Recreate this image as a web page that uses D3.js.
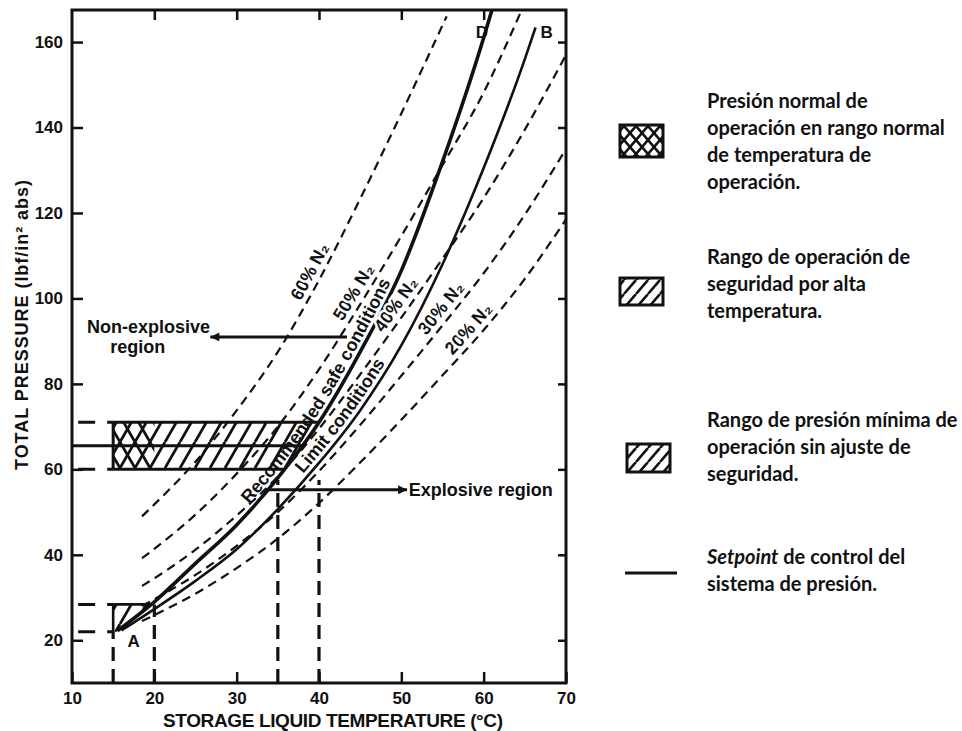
<!DOCTYPE html>
<html>
<head>
<meta charset="utf-8">
<script src="https://cdn.jsdelivr.net/npm/d3@7"></script>
<style>
  body { margin: 0; background: #fff; }
  svg { display: block; }
  .tick text { font-family: "Liberation Sans", Arial, sans-serif; font-weight: bold; font-size: 17px; fill: #111; }
  .lbl { font-family: "Liberation Sans", Arial, sans-serif; font-weight: bold; font-size: 18px; fill: #111; }
  .leg { font-family: Lato, "Open Sans", sans-serif; font-weight: bold; font-size: 20px; fill: #111; }
</style>
</head>
<body>
<svg id="chart" width="962" height="731"></svg>
<script>
// [temperature °C, total pressure lbf/in² abs]
var n2_60 = [[18.5,49],[20,51.8],[25,61.8],[30,73.8],[35,87.5],[40,104.3],[45,123.3],[50,143.3],[55.5,166]]
var n2_50 = [[18.5,39.2],[20,41.4],[25,49.4],[30,59],[35,70],[40,83.4],[45,98.6],[50,114.6],[55,131.2],[60,148.2],[64.5,167]]
var n2_40 = [[18.5,32.7],[20,34.5],[25,41.2],[30,49.2],[35,58.3],[40,69.5],[45,82.2],[50,95.5],[55,109.3],[60,123.5],[65,139.5],[70,157]]
var n2_30 = [[18.5,28],[20,29.6],[25,35.3],[30,42.1],[35,50],[40,59.6],[45,70.4],[50,81.9],[55,93.7],[60,105.9],[65,119.6],[70,135]]
var n2_20 = [[18.5,24.5],[20,25.9],[25,30.9],[30,36.9],[35,43.8],[40,52.1],[45,61.6],[50,71.6],[55,82],[60,92.6],[65,104.6],[70,118.5]]
var safeD = [[15.5,22.2],[20,29],[25,38],[30,47],[35,58],[40,71],[45,87.5],[50,106.5],[55,132],[60,161],[61,167.5]]
var limitB = [[16,22.3],[20,27.3],[25,33.9],[30,41.3],[35,50.7],[40,61.5],[45,73.8],[50,89],[55,108],[60,130.5],[65,156],[66.3,163.4]]

var xTicks = [10, 20, 30, 40, 50, 60, 70]
var yTicks = [20, 40, 60, 80, 100, 120, 140, 160]

var opBand = [60, 71]        // normal operating pressure
var setpoint = 65.5
var normTemp = [15, 20]      // normal operating temperature
var minBand = [22, 28.4]     // minimum pressure range
var highTemp = [35, 40]      // high temperature marks

var legendItems = [
  ['Presión normal de', 'operación en rango normal', 'de temperatura de', 'operación.'],
  ['Rango de operación de', 'seguridad por alta', 'temperatura.'],
  ['Rango de presión mínima de', 'operación sin ajuste de', 'seguridad.'],
  ['Setpoint| de control del', 'sistema de presión.']
]

var plotLeft = 72, plotRight = 566, plotTop = 10, plotBottom = 683

var svg = d3.select('#chart')
var x = d3.scaleLinear().domain([10, 70]).range([plotLeft, plotRight])
var y = d3.scaleLinear().domain([10, 167.5]).range([plotBottom, plotTop])

var line = d3.line()
  .x(function(d) { return x(d[0]) })
  .y(function(d) { return y(d[1]) })
  .curve(d3.curveMonotoneX)

var defs = svg.append('defs')
defs.append('clipPath').attr('id', 'plot')
  .append('rect').attr('x', plotLeft).attr('y', plotTop)
  .attr('width', plotRight - plotLeft).attr('height', plotBottom - plotTop)

// everything left of the recommended curve D
var dEnd = safeD[safeD.length - 1]
defs.append('clipPath').attr('id', 'leftOfD')
  .append('path')
  .attr('d', line(safeD) + 'L' + x(dEnd[0]) + ',' + plotTop + 'L' + plotLeft + ',' + plotTop +
    'L' + plotLeft + ',' + plotBottom + 'L' + x(safeD[0][0]) + ',' + plotBottom + 'Z')

// w x h tile, rising ("/") or falling ("\") lines
function hatch(id, w, h, rising, sw) {
  var d = rising
    ? 'M' + (-w) + ',' + h + 'L0,0M0,' + h + 'L' + w + ',0M' + w + ',' + h + 'L' + (2 * w) + ',0'
    : 'M' + (-w) + ',0L0,' + h + 'M0,0L' + w + ',' + h + 'M' + w + ',0L' + (2 * w) + ',' + h
  defs.append('pattern').attr('id', id)
    .attr('patternUnits', 'userSpaceOnUse')
    .attr('width', w).attr('height', h)
    .append('path').attr('d', d).attr('stroke', '#111').attr('stroke-width', sw)
}
hatch('hatchR', 15, 26, true, 2.8)
hatch('hatchL', 15, 26, false, 2.8)
hatch('hatchRs', 12, 14, true, 2.6)
hatch('hatchLs', 12, 14, false, 2.6)

var marker = defs.append('marker').attr('id', 'arrow')
  .attr('viewBox', '0 0 10 10').attr('refX', 10).attr('refY', 5)
  .attr('markerUnits', 'userSpaceOnUse')
  .attr('markerWidth', 17).attr('markerHeight', 9)
  .attr('orient', 'auto')
marker.append('path').attr('d', 'M0,0L10,5L0,10Z').attr('fill', '#111')

// hatched regions
var regions = svg.append('g').attr('clip-path', 'url(#leftOfD)')
regions.append('rect')
  .attr('x', x(normTemp[0])).attr('y', y(opBand[1]))
  .attr('width', x(45) - x(normTemp[0])).attr('height', y(opBand[0]) - y(opBand[1]))
  .attr('fill', 'url(#hatchR)')
regions.append('rect')
  .attr('x', x(normTemp[0])).attr('y', y(opBand[1]))
  .attr('width', x(normTemp[1]) - x(normTemp[0])).attr('height', y(opBand[0]) - y(opBand[1]))
  .attr('fill', 'url(#hatchL)')
regions.append('rect')
  .attr('x', x(normTemp[0])).attr('y', y(minBand[1]))
  .attr('width', x(normTemp[1]) - x(normTemp[0])).attr('height', y(minBand[0]) - y(minBand[1]))
  .attr('fill', 'url(#hatchR)')

// box edges and setpoint, cut at curve D
var edges = [
  [[normTemp[0], opBand[1]], [45, opBand[1]], 3],
  [[normTemp[0], opBand[0]], [45, opBand[0]], 3],
  [[normTemp[0], opBand[0]], [normTemp[0], opBand[1]], 3],
  [[10, setpoint], [45, setpoint], 3],
  [[normTemp[0], minBand[1]], [normTemp[1], minBand[1]], 2.6],
  [[normTemp[0], minBand[0]], [normTemp[0], minBand[1]], 2.6]
]
regions.selectAll('.edge').data(edges).enter().append('line')
  .attr('class', 'edge')
  .attr('x1', function(d) { return x(d[0][0]) }).attr('y1', function(d) { return y(d[0][1]) })
  .attr('x2', function(d) { return x(d[1][0]) }).attr('y2', function(d) { return y(d[1][1]) })
  .attr('stroke', '#111').attr('stroke-width', function(d) { return d[2] })

// dashed leaders
var guides = svg.append('g').attr('stroke', '#111').attr('fill', 'none')
;[opBand[0], opBand[1], minBand[0], minBand[1]].forEach(function(p) {
  guides.append('line')
    .attr('x1', x(normTemp[0])).attr('x2', x(10)).attr('y1', y(p)).attr('y2', y(p))
    .attr('stroke-width', 3).attr('stroke-dasharray', '6 12 17 100')
})
var verticals = [[normTemp[0], minBand[0]], [normTemp[1], minBand[1]], [highTemp[0], 57.5], [highTemp[1], 57.5]]
verticals.forEach(function(v) {
  guides.append('line')
    .attr('x1', x(v[0])).attr('x2', x(v[0])).attr('y1', y(10)).attr('y2', y(v[1]))
    .attr('stroke-width', 3.2).attr('stroke-dasharray', '14 8')
})

// curves
var curves = svg.append('g').attr('clip-path', 'url(#plot)').attr('fill', 'none').attr('stroke', '#111')
var series = [
  {id: 'c60', data: n2_60, w: 2.2, dash: '9 6'},
  {id: 'c50', data: n2_50, w: 2.2, dash: '9 6'},
  {id: 'c40', data: n2_40, w: 2.2, dash: '9 6'},
  {id: 'c30', data: n2_30, w: 2.2, dash: '9 6'},
  {id: 'c20', data: n2_20, w: 2.2, dash: '9 6'},
  {id: 'cD', data: safeD, w: 3.6, dash: null},
  {id: 'cB', data: limitB, w: 2.6, dash: null}
]
series.forEach(function(s) {
  curves.append('path').attr('id', s.id).attr('d', line(s.data))
    .attr('stroke-width', s.w).attr('stroke-dasharray', s.dash)
})

// frame and ticks
svg.append('rect').attr('x', plotLeft).attr('y', plotTop)
  .attr('width', plotRight - plotLeft).attr('height', plotBottom - plotTop)
  .attr('fill', 'none').attr('stroke', '#111').attr('stroke-width', 3)

function styleAxis(g) {
  g.select('.domain').remove()
  g.selectAll('.tick line').attr('stroke', '#111').attr('stroke-width', 2.5)
}
svg.append('g').attr('transform', 'translate(0,' + plotBottom + ')')
  .call(d3.axisBottom(x).tickValues(xTicks).tickSize(-11).tickSizeOuter(0).tickPadding(9)).call(styleAxis)
svg.append('g').attr('transform', 'translate(' + plotLeft + ',0)')
  .call(d3.axisLeft(y).tickValues(yTicks).tickSize(-11).tickSizeOuter(0).tickPadding(9)).call(styleAxis)
svg.append('g').attr('transform', 'translate(0,' + plotTop + ')')
  .call(d3.axisTop(x).tickValues([20, 30, 40, 50, 60]).tickSize(-10).tickSizeOuter(0).tickFormat('')).call(styleAxis)
svg.append('g').attr('transform', 'translate(' + plotRight + ',0)')
  .call(d3.axisRight(y).tickValues(yTicks).tickSize(-8).tickSizeOuter(0).tickFormat('')).call(styleAxis)

svg.append('text').attr('class', 'lbl')
  .attr('transform', 'translate(28,325) rotate(-90)')
  .attr('text-anchor', 'middle').attr('textLength', 290).attr('lengthAdjust', 'spacing')
  .text('TOTAL PRESSURE (lbf/in² abs)')
svg.append('text').attr('class', 'lbl').style('font-size', '19px')
  .attr('x', 333).attr('y', 727)
  .attr('text-anchor', 'middle').attr('textLength', 340).attr('lengthAdjust', 'spacing')
  .text('STORAGE LIQUID TEMPERATURE (°C)')

// labels running along the curves
function offsetAt(node, p) {
  var lo = 0, hi = node.getTotalLength(), target = y(p)
  for (var i = 0; i < 40; i++) {
    var mid = (lo + hi) / 2
    if (node.getPointAtLength(mid).y > target) lo = mid
    else hi = mid
  }
  return (lo + hi) / 2
}
var curveLabels = [
  {id: 'c60', text: '60% N₂', at: 105, dy: -6, halo: true},
  {id: 'c50', text: '50% N₂', at: 100, dy: -6, halo: true},
  {id: 'c40', text: '40% N₂', at: 97, dy: -6, halo: true},
  {id: 'c30', text: '30% N₂', at: 96, dy: -6, halo: true},
  {id: 'c20', text: '20% N₂', at: 91, dy: -6, halo: true},
  {id: 'cD', text: 'Recommended safe conditions', at: 76, dy: -5, halo: false},
  {id: 'cB', text: 'Limit conditions', at: 70.8, dy: -5, halo: false}
]
curveLabels.forEach(function(l) {
  var node = document.getElementById(l.id)
  var t = svg.append('text').attr('class', 'lbl').attr('dy', l.dy)
  if (l.halo) t.attr('stroke', '#fff').attr('stroke-width', 5).attr('paint-order', 'stroke')
  t.append('textPath').attr('href', '#' + l.id)
    .attr('startOffset', offsetAt(node, l.at)).attr('text-anchor', 'middle')
    .text(l.text)
})

svg.append('text').attr('class', 'lbl').style('font-size', '17px')
  .attr('x', x(61) - 10).attr('y', y(161)).attr('text-anchor', 'middle').text('D')
svg.append('text').attr('class', 'lbl').style('font-size', '17px')
  .attr('x', x(66.3) + 11).attr('y', y(161)).attr('text-anchor', 'middle').text('B')
svg.append('text').attr('class', 'lbl').style('font-size', '17px')
  .attr('x', x(17.5)).attr('y', y(18.5)).attr('text-anchor', 'middle').text('A')

// region arrows
svg.append('line').attr('x1', x(43.4)).attr('x2', x(26.8)).attr('y1', y(91)).attr('y2', y(91))
  .attr('stroke', '#111').attr('stroke-width', 3).attr('marker-end', 'url(#arrow)')
svg.append('line').attr('x1', x(33.7)).attr('x2', x(50.7)).attr('y1', y(55.2)).attr('y2', y(55.2))
  .attr('stroke', '#111').attr('stroke-width', 3).attr('marker-end', 'url(#arrow)')
svg.append('text').attr('class', 'lbl').attr('x', x(19.3)).attr('y', y(91.9))
  .attr('text-anchor', 'middle').text('Non-explosive')
svg.append('text').attr('class', 'lbl').attr('x', x(18)).attr('y', y(87.2))
  .attr('text-anchor', 'middle').text('region')
svg.append('text').attr('class', 'lbl').attr('x', x(50.9)).attr('y', y(53.8)).text('Explosive region')

// legend
var lg = svg.append('g')
var icons = [
  {x: 620, y: 125, w: 43, h: 32, fills: ['url(#hatchRs)', 'url(#hatchLs)']},
  {x: 620, y: 278, w: 43, h: 27, fills: ['url(#hatchRs)']},
  {x: 627, y: 444, w: 43, h: 28, fills: ['url(#hatchRs)']}
]
icons.forEach(function(ic) {
  ic.fills.forEach(function(f) {
    lg.append('rect').attr('x', ic.x).attr('y', ic.y).attr('width', ic.w).attr('height', ic.h).attr('fill', f)
  })
  lg.append('rect').attr('x', ic.x).attr('y', ic.y).attr('width', ic.w).attr('height', ic.h)
    .attr('fill', 'none').attr('stroke', '#111').attr('stroke-width', 3)
})
lg.append('line').attr('x1', 625).attr('x2', 677).attr('y1', 573).attr('y2', 573)
  .attr('stroke', '#111').attr('stroke-width', 3)

var legendTop = [108, 264, 427, 564]
legendItems.forEach(function(lines, i) {
  var t = lg.append('text').attr('class', 'leg')
  lines.forEach(function(s, j) {
    var parts = s.split('|')
    var ts = t.append('tspan').attr('x', 707).attr('y', legendTop[i] + j * 27)
    if (parts.length > 1) {
      ts.text(parts[0]).style('font-style', 'italic')
      t.append('tspan').text(parts[1])
    } else {
      ts.text(s)
    }
  })
})
</script>
</body>
</html>
